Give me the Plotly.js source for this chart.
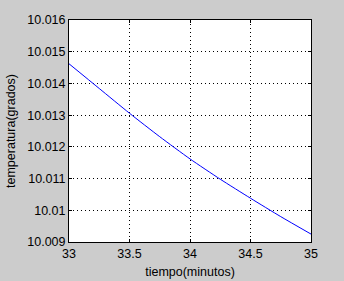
<!DOCTYPE html>
<html>
<head>
<meta charset="utf-8">
<script src="https://cdn.plot.ly/plotly-3.0.1.min.js"></script>
<style>
html,body{margin:0;padding:0;background:#cccccc;}
#chart{width:344px;height:281px;}
</style>
</head>
<body>
<div id="chart"></div>
<script>
const tiempo = [33, 33.25, 33.5, 33.75, 34, 34.25, 34.5, 34.75, 35];
const temperatura = [10.01462, 10.01384, 10.01306, 10.01232, 10.01162, 10.01098, 10.01038, 10.00980, 10.00925];
const xTickVals = [33, 33.5, 34, 34.5, 35];
const xTickText = ['33', '33.5', '34', '34.5', '35'];
const yTickVals = [10.009, 10.010, 10.011, 10.012, 10.013, 10.014, 10.015, 10.016];
const yTickText = ['10.009', '10.01', '10.011', '10.012', '10.013', '10.014', '10.015', '10.016'];

const font = {family: 'Liberation Sans, Arial, sans-serif', size: 12.5, color: '#000'};

Plotly.newPlot('chart', [{
  x: tiempo, y: temperatura, type: 'scatter', mode: 'lines',
  line: {color: '#0000ff', width: 1, shape: 'spline', smoothing: 0.6}, hoverinfo: 'none'
}], {
  width: 344, height: 281,
  margin: {l: 69, r: 33, t: 20, b: 39},
  paper_bgcolor: '#cccccc', plot_bgcolor: '#ffffff',
  font: font,
  showlegend: false,
  xaxis: {
    range: [33, 35], tickvals: xTickVals, ticktext: xTickText,
    ticks: 'inside', ticklen: 3, tickcolor: '#000', tickwidth: 1,
    showline: true, linecolor: '#000', linewidth: 1, mirror: 'ticks',
    showgrid: true, gridcolor: '#000', griddash: '1px,3px', gridwidth: 1,
    zeroline: false, tickfont: font,
    title: {text: 'tiempo(minutos)', font: font, standoff: 7}
  },
  yaxis: {
    range: [10.009, 10.016], tickvals: yTickVals, ticktext: yTickText,
    ticks: 'inside', ticklen: 3, tickcolor: '#000', tickwidth: 1,
    showline: true, linecolor: '#000', linewidth: 1, mirror: 'ticks',
    showgrid: true, gridcolor: '#000', griddash: '1px,3px', gridwidth: 1,
    zeroline: false, tickfont: font,
    title: {text: 'temperatura(grados)', font: font, standoff: 8}
  }
}, {displayModeBar: false, staticPlot: true});
</script>
</body>
</html>
